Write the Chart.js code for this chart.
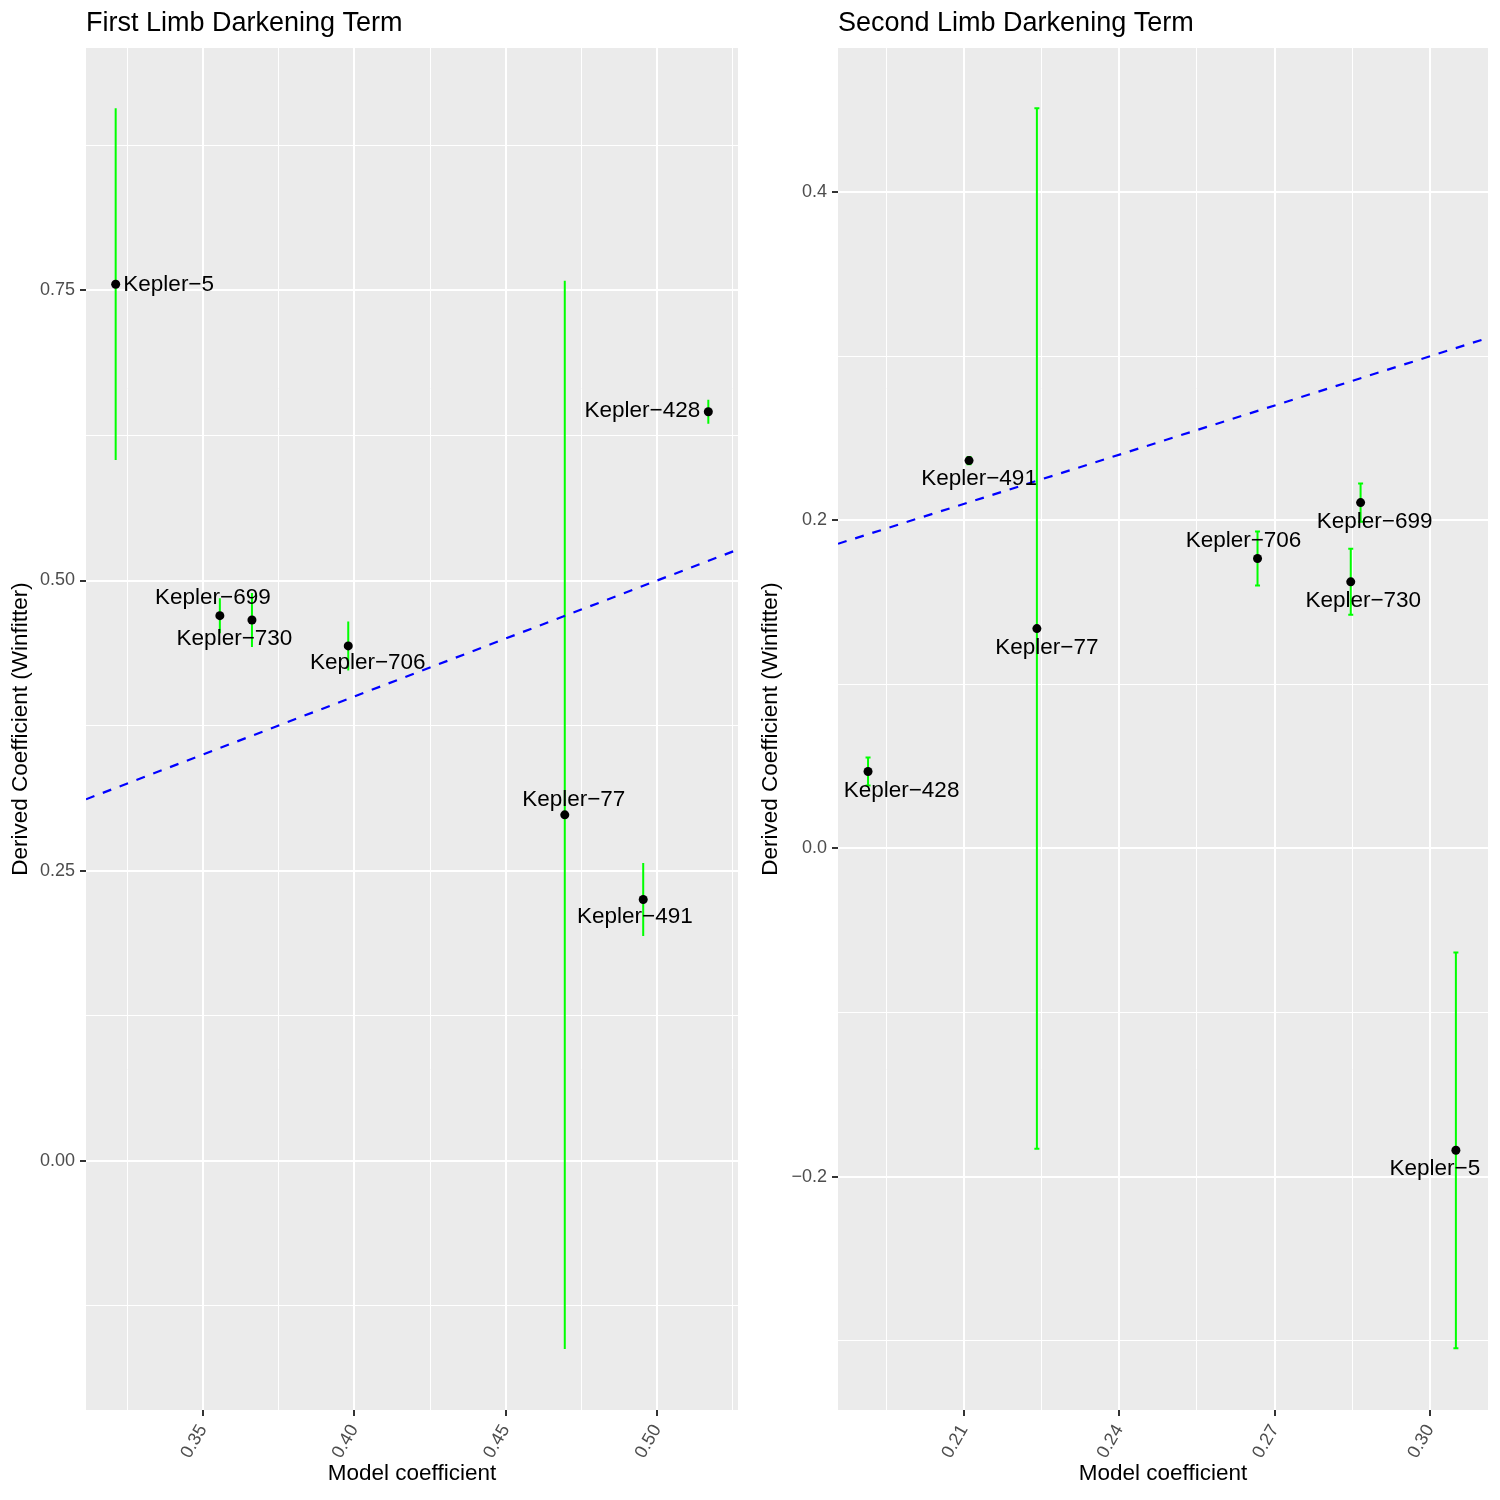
<!DOCTYPE html>
<html>
<head>
<meta charset="utf-8">
<title>Limb Darkening Terms</title>
<script src="https://cdn.jsdelivr.net/npm/chart.js@4.4.1/dist/chart.umd.min.js"></script>
<style>
  body { margin: 0; background: #fff; }
  .wrap { display: flex; width: 1500px; height: 1500px; }
  canvas { display: block; }
</style>
</head>
<body>
<div class="wrap">
  <canvas id="firstChart" width="750" height="1500"></canvas>
  <canvas id="secondChart" width="750" height="1500"></canvas>
</div>
<script>
// Planets (same order in both panels)
const planets = ['Kepler\u22125', 'Kepler\u2212699', 'Kepler\u2212730', 'Kepler\u2212706', 'Kepler\u221277', 'Kepler\u2212491', 'Kepler\u2212428'];

// First limb darkening term
const model1 = [0.3212, 0.3556, 0.3662, 0.3980, 0.4695, 0.4954, 0.5169];
const derived1 = [0.7554, 0.4697, 0.4660, 0.4436, 0.2980, 0.2250, 0.6455];
const error1 = [0.1507, 0.0142, 0.0224, 0.0203, 0.4595, 0.0306, 0.0095];

// Second limb darkening term
const model2 = [0.3050, 0.2866, 0.2847, 0.2667, 0.2241, 0.2110, 0.1915];
const derived2 = [-0.1840, 0.2108, 0.1625, 0.1767, 0.1340, 0.2364, 0.0469];
const error2 = [0.1206, 0.0116, 0.0201, 0.0165, 0.3171, 0.0022, 0.0085];

// Axis limits
const xLimits1 = [0.3114, 0.5267];
const yLimits1 = [-0.2150, 0.9590];
const xLimits2 = [0.1857, 0.3112];
const yLimits2 = [-0.3423, 0.4879];

// Tick values
const xMajor1 = [0.35, 0.40, 0.45, 0.50];
const xMinor1 = [0.325, 0.375, 0.425, 0.475, 0.525];
const yMajor1 = [0, 0.25, 0.50, 0.75];
const yMinor1 = [-0.125, 0.125, 0.375, 0.625, 0.875];
const xMajor2 = [0.21, 0.24, 0.27, 0.30];
const xMinor2 = [0.195, 0.225, 0.255, 0.285];
const yMajor2 = [-0.2, 0, 0.2, 0.4];
const yMinor2 = [-0.3, -0.1, 0.1, 0.3];

// Label offsets (px) from each point
const labelDx1 = [53, -7, -17.5, 19.5, 9, -8.3, -66];
const labelDy1 = [1, -18, 19, 16.5, -15.5, 17.4, -0.5];
const labelDx2 = [-21, 14, 12.5, -14, 10, 10, 33.5];
const labelDy2 = [18, 19.5, 18.5, -17.5, 19, 18.5, 19];

const FONT = '"Liberation Sans", Arial, Helvetica, sans-serif';
Chart.defaults.font.family = FONT;

function isIn(list, v) {
    return list.some(m => Math.abs(m - v) < 1e-9);
}

function fmt(v, digits) {
    return v.toFixed(digits).replace('-', '\u2212');
}

function makePanel(canvasId, p) {
    const points = p.model.map((m, i) => ({ x: m, y: p.derived[i] }));

    const panelPlugin = {
        id: 'panel_' + canvasId,
        beforeDraw(chart) {
            const { ctx, chartArea: a } = chart;
            ctx.save();
            ctx.fillStyle = '#EBEBEB';
            ctx.fillRect(a.left, a.top, a.right - a.left, a.bottom - a.top);
            ctx.restore();
        },
        beforeDatasetsDraw(chart) {
            // error bars
            const { ctx, chartArea: a, scales: { x, y } } = chart;
            ctx.save();
            ctx.beginPath();
            ctx.rect(a.left, a.top, a.right - a.left, a.bottom - a.top);
            ctx.clip();
            ctx.strokeStyle = '#00FF00';
            ctx.lineWidth = 2;
            p.model.forEach((m, i) => {
                const px = x.getPixelForValue(m);
                const top = y.getPixelForValue(p.derived[i] + p.error[i]);
                const bot = y.getPixelForValue(p.derived[i] - p.error[i]);
                ctx.beginPath();
                ctx.moveTo(px, top);
                ctx.lineTo(px, bot);
                ctx.moveTo(px - p.cap, top);
                ctx.lineTo(px + p.cap, top);
                ctx.moveTo(px - p.cap, bot);
                ctx.lineTo(px + p.cap, bot);
                ctx.stroke();
            });
            ctx.restore();
        },
        afterDatasetsDraw(chart) {
            // point labels
            const { ctx, scales: { x, y } } = chart;
            ctx.save();
            ctx.fillStyle = '#000';
            ctx.font = '22.5px ' + FONT;
            ctx.textAlign = 'center';
            ctx.textBaseline = 'middle';
            planets.forEach((name, i) => {
                const px = x.getPixelForValue(p.model[i]);
                const py = y.getPixelForValue(p.derived[i]);
                ctx.fillText(name, px + p.dx[i], py + p.dy[i]);
            });
            ctx.restore();
        },
        afterDraw(chart) {
            const { ctx, chartArea: a } = chart;
            ctx.save();
            ctx.fillStyle = '#000';
            ctx.font = '27px ' + FONT;
            ctx.textAlign = 'left';
            ctx.textBaseline = 'alphabetic';
            ctx.fillText(p.title, a.left, 31);
            ctx.restore();
        }
    };

    const gridFor = (majors) => ({
        color: '#FFFFFF',
        lineWidth: c => (c.tick && isIn(majors, c.tick.value)) ? 2 : 1,
        tickColor: c => (c.tick && isIn(majors, c.tick.value)) ? '#333333' : 'rgba(0,0,0,0)',
        tickLength: 6,
        tickWidth: 2
    });

    return new Chart(document.getElementById(canvasId), {
        data: {
            datasets: [
                {
                    type: 'line',
                    data: [{ x: p.xLim[0], y: p.xLim[0] }, { x: p.xLim[1], y: p.xLim[1] }],
                    borderColor: '#0000FF',
                    borderWidth: 2.2,
                    borderDash: [9, 9],
                    pointRadius: 0,
                    fill: false,
                    clip: 0
                },
                {
                    type: 'scatter',
                    data: points,
                    pointRadius: 4.5,
                    backgroundColor: '#000000',
                    borderWidth: 0
                }
            ]
        },
        options: {
            responsive: false,
            animation: false,
            events: [],
            layout: { autoPadding: false, padding: { top: 48, right: p.padRight, left: 0, bottom: 0 } },
            plugins: { legend: { display: false }, tooltip: { enabled: false } },
            scales: {
                x: {
                    type: 'linear',
                    position: 'bottom',
                    min: p.xLim[0],
                    max: p.xLim[1],
                    afterBuildTicks: s => {
                        s.ticks = p.xMajor.concat(p.xMinor).sort((a, b) => a - b).map(v => ({ value: v }));
                    },
                    afterFit: s => {
                        s.height = 90;
                        s.paddingLeft = 0;
                        s.paddingRight = 0;
                    },
                    ticks: {
                        autoSkip: false,
                        minRotation: 60,
                        maxRotation: 60,
                        padding: 5,
                        color: '#4D4D4D',
                        font: { size: 18 },
                        callback: v => isIn(p.xMajor, v) ? fmt(v, 2) : ''
                    },
                    grid: gridFor(p.xMajor),
                    border: { display: false },
                    title: {
                        display: true,
                        text: 'Model coefficient',
                        color: '#000',
                        font: { size: 22.5 },
                        padding: { top: 0, bottom: 12.5 }
                    }
                },
                y: {
                    type: 'linear',
                    position: 'left',
                    min: p.yLim[0],
                    max: p.yLim[1],
                    afterBuildTicks: s => {
                        s.ticks = p.yMajor.concat(p.yMinor).sort((a, b) => a - b).map(v => ({ value: v }));
                    },
                    afterFit: s => {
                        s.width = p.yWidth;
                        s.paddingTop = 0;
                        s.paddingBottom = 0;
                    },
                    ticks: {
                        autoSkip: false,
                        padding: 5,
                        color: '#4D4D4D',
                        font: { size: 18 },
                        callback: v => isIn(p.yMajor, v) ? fmt(v, p.yDigits) : ''
                    },
                    grid: gridFor(p.yMajor),
                    border: { display: false },
                    title: {
                        display: true,
                        text: 'Derived Coefficient (Winfitter)',
                        color: '#000',
                        font: { size: 22.5 },
                        padding: { top: 7, bottom: 0 }
                    }
                }
            }
        },
        plugins: [panelPlugin]
    });
}

makePanel('firstChart', {
    title: 'First Limb Darkening Term',
    model: model1, derived: derived1, error: error1,
    dx: labelDx1, dy: labelDy1,
    xLim: xLimits1, yLim: yLimits1,
    xMajor: xMajor1, xMinor: xMinor1, yMajor: yMajor1, yMinor: yMinor1,
    yDigits: 2, yWidth: 86, padRight: 12, cap: 1
});

makePanel('secondChart', {
    title: 'Second Limb Darkening Term',
    model: model2, derived: derived2, error: error2,
    dx: labelDx2, dy: labelDy2,
    xLim: xLimits2, yLim: yLimits2,
    xMajor: xMajor2, xMinor: xMinor2, yMajor: yMajor2, yMinor: yMinor2,
    yDigits: 1, yWidth: 88, padRight: 12, cap: 2.5
});
</script>
</body>
</html>
